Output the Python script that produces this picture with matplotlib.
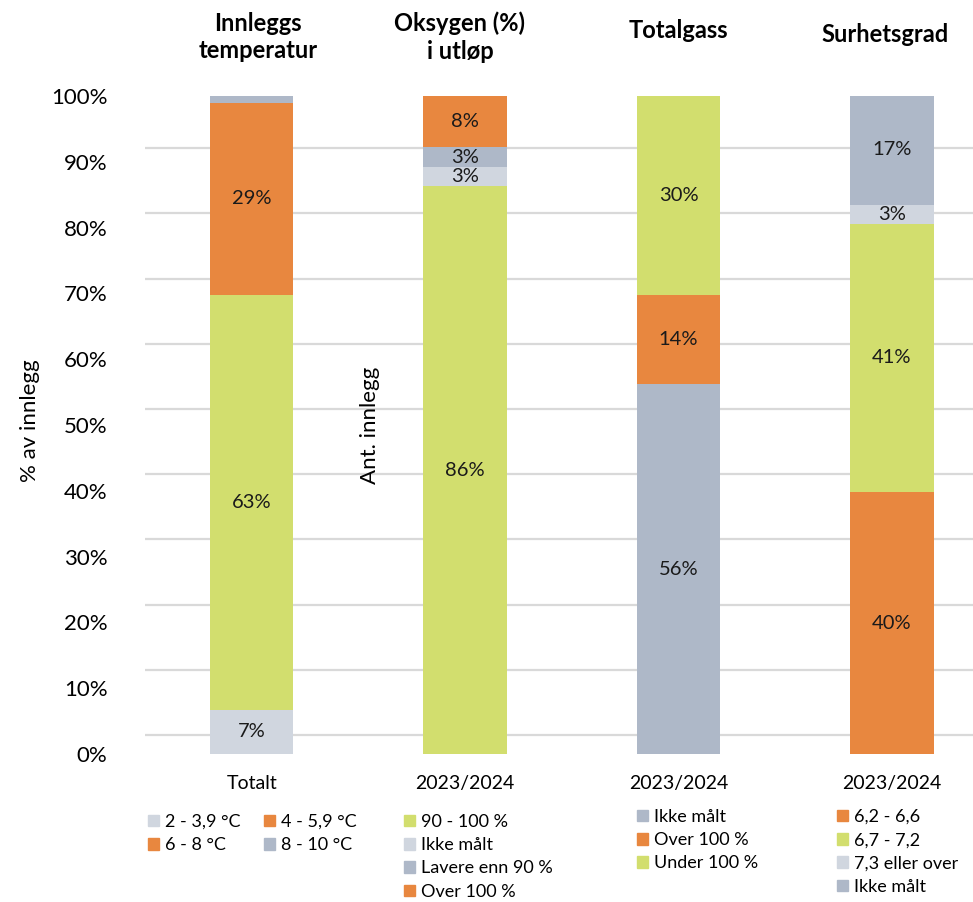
import numpy as np
import matplotlib
matplotlib.use("Agg")
import matplotlib.pyplot as plt
from matplotlib.patches import Patch

plt.rcParams['font.family'] = ['Lato', 'DejaVu Sans']

LIGHT = '#D0D6DF'
GRAY = '#AEB8C8'
ORANGE = '#E8873F'
GREEN = '#D2DE6E'

# data: one stacked bar per measurement, segments bottom -> top
titles = ["Innleggs\ntemperatur", "Oksygen (%)\ni utløp", "Totalgass", "Surhetsgrad"]
categories = ["Totalt", "2023/2024", "2023/2024", "2023/2024"]

temp_labels = ["2 - 3,9 °C", "4 - 5,9 °C", "6 - 8 °C", "8 - 10 °C"]
temp_vals = [6.7, 63.1, 29.1, 1.1]
temp_colors = [LIGHT, GREEN, ORANGE, GRAY]
temp_legend_colors = [LIGHT, ORANGE, ORANGE, GRAY]

oxy_labels = ["90 - 100 %", "Ikke målt", "Lavere enn 90 %", "Over 100 %"]
oxy_vals = [86.3, 2.9, 3.0, 7.8]
oxy_colors = [GREEN, LIGHT, GRAY, ORANGE]

gas_labels = ["Ikke målt", "Over 100 %", "Under 100 %"]
gas_vals = [56.2, 13.6, 30.2]
gas_colors = [GRAY, ORANGE, GREEN]

ph_labels = ["6,2 - 6,6", "6,7 - 7,2", "7,3 eller over", "Ikke målt"]
ph_vals = [39.8, 40.8, 2.9, 16.6]
ph_colors = [ORANGE, GREEN, LIGHT, GRAY]

bars = [(temp_vals, temp_colors), (oxy_vals, oxy_colors),
        (gas_vals, gas_colors), (ph_vals, ph_colors)]

W, H = 973, 902
fig = plt.figure(figsize=(W / 100, H / 100), dpi=100)
ax = fig.add_axes([145 / W, (H - 754) / H, (W - 145) / W, (754 - 96) / H])

# secondary count axis only supplies the gridlines (as in the source chart)
ax2 = ax.twinx()
ax2.set_ylim(-2.9, 98.0)
ax2.set_yticks(np.arange(0, 100, 10))
ax2.tick_params(left=False, right=False, labelright=False)
ax2.grid(axis='y', color='#D9D9D9', linewidth=1.6)
for s in ax2.spines.values():
    s.set_visible(False)
ax.set_zorder(ax2.get_zorder() + 1)
ax.patch.set_visible(False)

x = np.arange(len(bars))
for i, (vals, colors) in enumerate(bars):
    bottom = 0
    for v, c in zip(vals, colors):
        ax.bar(x[i], v, bottom=bottom, width=0.39, color=c, linewidth=0)
        if v >= 2:
            ax.text(x[i], bottom + v / 2, f"{v:.0f}%", ha='center', va='center',
                    fontsize=14.5, color='#1a1a1a')
        bottom += v

ax.set_xlim(-0.5, 3.38)
ax.set_ylim(0, 100)
ax.set_yticks(np.arange(0, 101, 10))
ax.set_yticklabels([f"{t}%" for t in range(0, 101, 10)], fontsize=16)
ax.set_xticks(x)
ax.set_xticklabels(categories, fontsize=14)
ax.tick_params(length=0)
ax.tick_params(axis='y', pad=27)
ax.tick_params(axis='x', pad=15)
for s in ax.spines.values():
    s.set_visible(False)

fig.text(30 / W, 1 - 421 / H, "% av innlegg", rotation=90, ha='center', va='center', fontsize=16)
fig.text(370 / W, 1 - 425 / H, "Ant. innlegg", rotation=90, ha='center', va='center', fontsize=16)

title_pos = [(258, 37), (460, 37), (678, 30), (885, 35)]
for t, (tx, ty) in zip(titles, title_pos):
    fig.text(tx / W, 1 - ty / H, t, ha='center', va='center', fontsize=17,
             fontweight='bold', linespacing=1.25)

leg_kw = dict(loc='upper left', frameon=False, fontsize=13, handlelength=0.6,
              handleheight=0.6, handletextpad=0.35, labelspacing=0.4, borderpad=0,
              borderaxespad=0)

# first legend is laid out row-wise in two columns
order = [0, 2, 1, 3]
h1 = [Patch(color=temp_legend_colors[k]) for k in order]
fig.legend(h1, [temp_labels[k] for k in order], ncol=2, columnspacing=1.3,
           bbox_to_anchor=(148 / W, 1 - 814 / H), **leg_kw)

for labels, colors, (lx, ly) in [(oxy_labels, oxy_colors, (404, 814)),
                                  (gas_labels, gas_colors, (637, 809)),
                                  (ph_labels, ph_colors, (837, 809))]:
    handles = [Patch(color=c) for c in colors]
    fig.legend(handles, labels, bbox_to_anchor=(lx / W, 1 - ly / H), **leg_kw)

fig.savefig("out.png", dpi=100)
